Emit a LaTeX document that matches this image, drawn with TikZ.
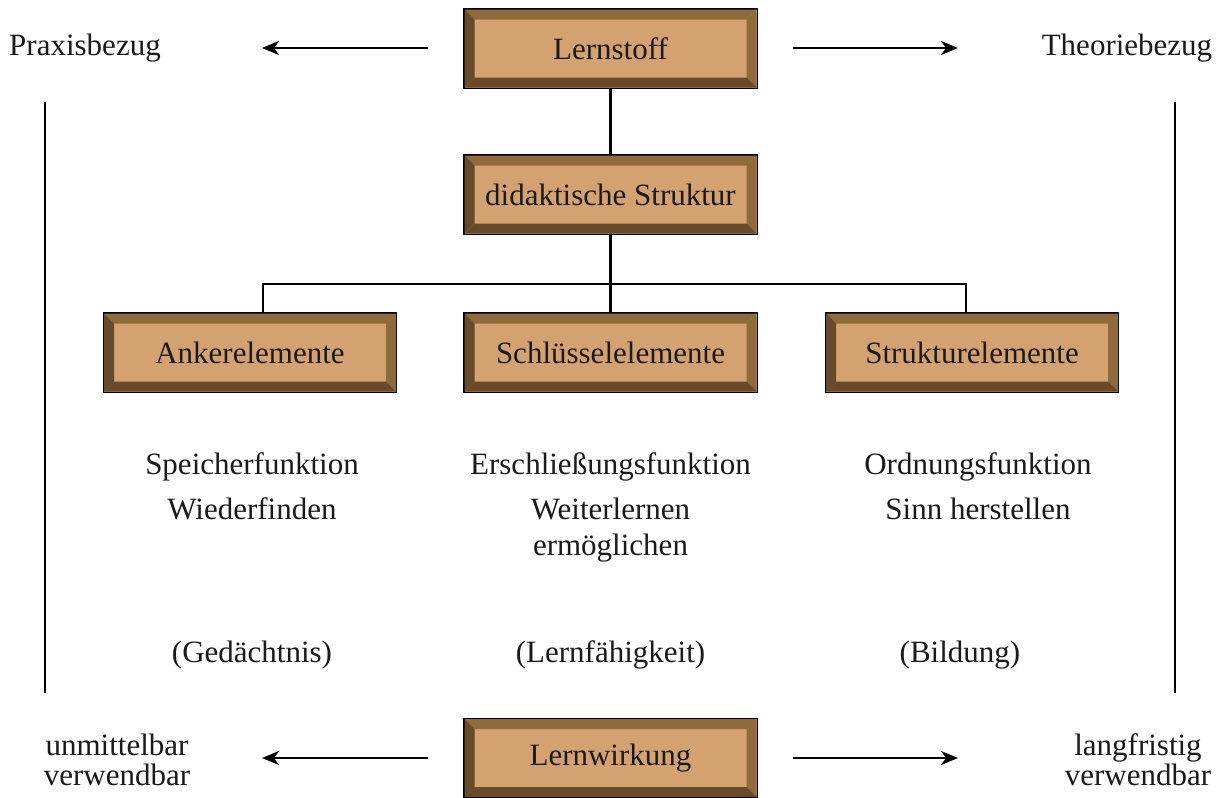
\documentclass[tikz,border=0pt]{standalone}
\usepackage{fontspec}
\setmainfont{Liberation Serif}
\usetikzlibrary{arrows.meta}
\definecolor{bevinner}{HTML}{D4A271}
\definecolor{bevlight}{HTML}{8F6A3A}
\definecolor{bevdark}{HTML}{664A2A}
\definecolor{txt}{HTML}{1A1A1A}
\tikzset{
  bevelbox/.style={rectangle, minimum width=292pt, minimum height=78pt, inner sep=0pt,
    fill=bevinner, text=txt, font=\fontsize{31}{34}\selectfont,
    path picture={
      \fill[bevlight] (path picture bounding box.north west) -- (path picture bounding box.north east)
        -- ([xshift=-10pt,yshift=-10pt]path picture bounding box.north east)
        -- ([xshift=10pt,yshift=-10pt]path picture bounding box.north west) -- cycle;
      \fill[bevlight] (path picture bounding box.north east) -- (path picture bounding box.south east)
        -- ([xshift=-10pt,yshift=10pt]path picture bounding box.south east)
        -- ([xshift=-10pt,yshift=-10pt]path picture bounding box.north east) -- cycle;
      \fill[bevdark] (path picture bounding box.south east) -- (path picture bounding box.south west)
        -- ([xshift=10pt,yshift=10pt]path picture bounding box.south west)
        -- ([xshift=-10pt,yshift=10pt]path picture bounding box.south east) -- cycle;
      \fill[bevdark] (path picture bounding box.south west) -- (path picture bounding box.north west)
        -- ([xshift=10pt,yshift=-10pt]path picture bounding box.north west)
        -- ([xshift=10pt,yshift=10pt]path picture bounding box.south west) -- cycle;
    },
    append after command={\pgfextra{\draw[line width=2pt,black] (\tikzlastnode.north west) rectangle (\tikzlastnode.south east);}}
  },
  label/.style={text=txt, font=\fontsize{31}{36}\selectfont, align=center, inner sep=0pt},
  label2/.style={text=txt, font=\fontsize{31}{30}\selectfont, align=center, inner sep=0pt},
  conn/.style={line width=2.2pt, black},
  arr/.style={line width=2.2pt, black, -{Stealth[length=17pt,width=14pt,inset=5pt]}},
  vline/.style={line width=2.2pt, black}
}
\begin{document}
\begin{tikzpicture}[x=1pt,y=-1pt]
\useasboundingbox (0,0) rectangle (1224,798);

\node[bevelbox] (lernstoff) at (610.5,48.5) {Lernstoff};
\node[bevelbox] (didaktik) at (610.5,194.5) {didaktische Struktur};
\node[bevelbox] (anker) at (250,352.5) {Ankerelemente};
\node[bevelbox] (schluessel) at (610.5,352.5) {Schlüsselelemente};
\node[bevelbox] (struktur) at (972,352.5) {Strukturelemente};
\node[bevelbox] (wirkung) at (610.5,758) {Lernwirkung};

\node[label] (praxis) at (85,48) {Praxisbezug};
\node[label] (theorie) at (1127,48) {Theoriebezug};
\node[label2] (unmittelbar) at (117,760) {unmittelbar\\verwendbar};
\node[label2] (langfristig) at (1138,760) {langfristig\\verwendbar};

\node[label, anchor=north] (speicher) at (252,452) {Speicherfunktion\\[9pt]Wiederfinden};
\node[label, anchor=north] (erschl) at (610.5,452) {Erschließungsfunktion\\[9pt]Weiterlernen\\ermöglichen};
\node[label, anchor=north] (ordnung) at (978,452) {Ordnungsfunktion\\[9pt]Sinn herstellen};

\node[label] (gedaechtnis) at (252,655) {(Gedächtnis)};
\node[label] (lernfaehig) at (610.5,655) {(Lernfähigkeit)};
\node[label] (bildung) at (960,655) {(Bildung)};

% connectors
\draw[conn] (lernstoff.south) -- (didaktik.north);
\coordinate (bar) at (610.5,284);
\coordinate (barL) at (263,284);
\coordinate (barR) at (966,284);
\draw[conn] (didaktik.south) -- (bar);
\draw[conn] (barL |- anker.north) -- (barL) -- (barR) -- (barR |- struktur.north);
\draw[conn] (bar) -- (schluessel.north);

% arrows
\coordinate (tl1) at (428,48); \coordinate (tl2) at (262,48);
\coordinate (tr1) at (793,48); \coordinate (tr2) at (958,48);
\coordinate (bl1) at (428,758); \coordinate (bl2) at (262,758);
\coordinate (br1) at (793,758); \coordinate (br2) at (958,758);
\draw[arr] (tl1) -- (tl2);
\draw[arr] (tr1) -- (tr2);
\draw[arr] (bl1) -- (bl2);
\draw[arr] (br1) -- (br2);

% vertical lines
\coordinate (vl1) at (45,102); \coordinate (vl2) at (45,693);
\coordinate (vr1) at (1175,102); \coordinate (vr2) at (1175,693);
\draw[vline] (vl1) -- (vl2);
\draw[vline] (vr1) -- (vr2);
\end{tikzpicture}
\end{document}
